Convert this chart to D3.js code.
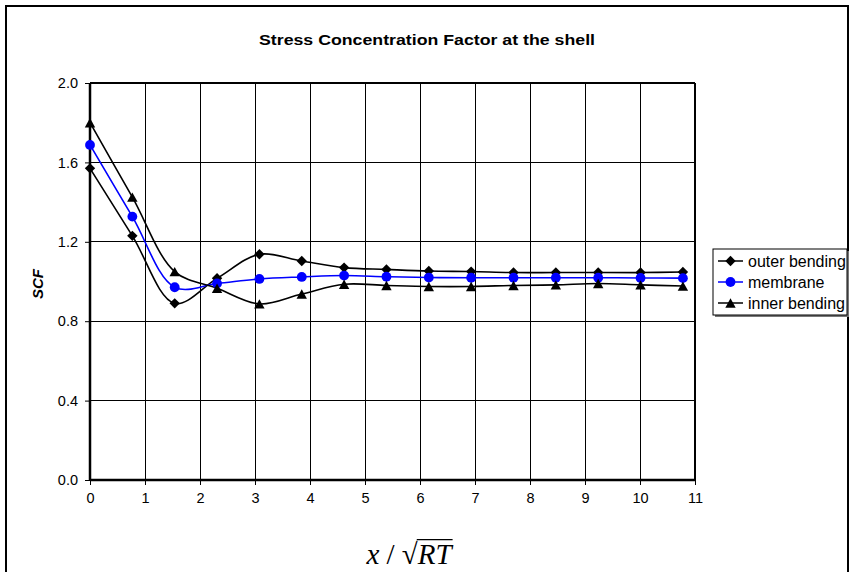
<!DOCTYPE html>
<html>
<head>
<meta charset="utf-8">
<script src="https://cdn.jsdelivr.net/npm/d3@7"></script>
<style>
  html, body { margin: 0; padding: 0; background: #fff; }
  svg { display: block; }
</style>
</head>
<body>
<svg id="chart" width="853" height="572"></svg>
<script>
// ---- data ----
const xValues = [0, 0.77, 1.54, 2.31, 3.08, 3.85, 4.62, 5.39, 6.16, 6.93, 7.70, 8.47, 9.24, 10.01, 10.78];
const outerBending = [1.57, 1.23, 0.89, 1.016, 1.137, 1.103, 1.07, 1.061, 1.053, 1.05, 1.045, 1.045, 1.045, 1.045, 1.048];
const membrane = [1.688, 1.327, 0.971, 0.99, 1.013, 1.023, 1.03, 1.024, 1.02, 1.019, 1.019, 1.019, 1.019, 1.018, 1.017];
const innerBending = [1.80, 1.425, 1.05, 0.966, 0.887, 0.937, 0.986, 0.98, 0.975, 0.975, 0.98, 0.983, 0.99, 0.983, 0.977];
const xTicks = [0, 1, 2, 3, 4, 5, 6, 7, 8, 9, 10, 11];
const yTicks = [0, 0.4, 0.8, 1.2, 1.6, 2.0];
const seriesNames = ["outer bending", "membrane", "inner bending"];
const chartTitle = "Stress Concentration Factor at the shell";
const yLabel = "SCF";

(function () {
const svg = d3.select("#chart");
const pLeft = 90, pRight = 695, pTop = 83, pBottom = 480;
const font = "Arial, 'Liberation Sans', sans-serif";

const x = d3.scaleLinear().domain([0, 11]).range([pLeft, pRight]);
const y = d3.scaleLinear().domain([0, 2]).range([pBottom, pTop]);

// custom marker shapes (size = half width)
const diamond = { draw(ctx, r) { ctx.moveTo(0, -r); ctx.lineTo(r, 0); ctx.lineTo(0, r); ctx.lineTo(-r, 0); ctx.closePath(); } };
const circle = { draw(ctx, r) { ctx.moveTo(r, 0); ctx.arc(0, 0, r, 0, 2 * Math.PI); } };
const triangle = { draw(ctx, r) { const h = r * 1.8; ctx.moveTo(0, -h / 2); ctx.lineTo(r, h / 2); ctx.lineTo(-r, h / 2); ctx.closePath(); } };

// outer frame
svg.append("rect").attr("x", 6).attr("y", 6).attr("width", 842).attr("height", 600)
  .attr("fill", "#fff").attr("stroke", "#000").attr("stroke-width", 2);

// title
svg.append("text").attr("x", 427).attr("y", 45).attr("text-anchor", "middle")
  .attr("font-family", font).attr("font-weight", "bold").attr("font-size", 15)
  .attr("textLength", 336).attr("lengthAdjust", "spacingAndGlyphs")
  .text(chartTitle);

// gridlines
const g = svg.append("g");
g.selectAll("line.hg").data(yTicks.filter(d => d > 0 && d < 2)).join("line")
  .attr("x1", pLeft).attr("x2", pRight).attr("y1", d => y(d)).attr("y2", d => y(d))
  .attr("stroke", "#000").attr("stroke-width", 1).attr("shape-rendering", "crispEdges");
g.selectAll("line.vg").data(xTicks.filter(d => d > 0 && d < 11)).join("line")
  .attr("x1", d => x(d)).attr("x2", d => x(d)).attr("y1", pTop).attr("y2", pBottom)
  .attr("stroke", "#000").attr("stroke-width", 1).attr("shape-rendering", "crispEdges");

// plot border (top, right)
g.append("line").attr("x1", pLeft).attr("x2", pRight).attr("y1", pTop).attr("y2", pTop)
  .attr("stroke", "#000").attr("stroke-width", 2);
g.append("line").attr("x1", pRight).attr("x2", pRight).attr("y1", pTop).attr("y2", pBottom)
  .attr("stroke", "#000").attr("stroke-width", 2);

// axes
const xAxis = d3.axisBottom(x).tickValues(xTicks).tickFormat(d3.format("d")).tickSize(5).tickPadding(8);
const yAxis = d3.axisLeft(y).tickValues(yTicks).tickFormat(d3.format(".1f")).tickSize(5).tickPadding(7);

const gx = svg.append("g").attr("transform", `translate(0,${pBottom})`).call(xAxis);
const gy = svg.append("g").attr("transform", `translate(${pLeft},0)`).call(yAxis);
[gx, gy].forEach(a => {
  a.select(".domain").attr("stroke", "#000").attr("stroke-width", 2.5);
  a.selectAll(".tick line").attr("stroke", "#000").attr("stroke-width", 1);
  a.selectAll(".tick text").attr("font-family", font).attr("font-size", 14.5).attr("fill", "#000");
});
gx.select(".domain").attr("d", `M${pLeft},0H${pRight}`);
gy.select(".domain").attr("d", `M0,${pBottom}V${pTop}`);

// y label
svg.append("text").attr("transform", "translate(43,284) rotate(-90)")
  .attr("text-anchor", "middle").attr("font-family", font).attr("font-weight", "bold")
  .attr("font-style", "italic").attr("font-size", 15).text(yLabel);

// x label: x / sqrt(RT)
const fs = 29;
const xl = svg.append("g").attr("font-family", "'Times New Roman', 'Liberation Serif', serif").attr("font-size", fs);
const t1 = xl.append("text").attr("x", 0).attr("y", 0);
t1.append("tspan").attr("font-style", "italic").text("x");
t1.append("tspan").text(" / √");
const w1 = t1.node().getComputedTextLength();
const t2 = xl.append("text").attr("x", w1).attr("y", 0).attr("font-style", "italic").text("RT");
const w2 = t2.node().getComputedTextLength();
xl.append("line").attr("x1", w1 - 1).attr("x2", w1 + w2 + 1).attr("y1", -0.84 * fs).attr("y2", -0.84 * fs)
  .attr("stroke", "#000").attr("stroke-width", 1.4);
const totalW = w1 + w2;
xl.attr("transform", `translate(${409 - totalW / 2},564)`);

// series
const makeData = vals => xValues.map((xv, i) => [xv, vals[i]]);
const line = d3.line().x(d => x(d[0])).y(d => y(d[1])).curve(d3.curveCatmullRom.alpha(0.5));

const seriesDefs = [
  { name: seriesNames[0], vals: outerBending, color: "#000", symbol: diamond, size: 5.2 },
  { name: seriesNames[1], vals: membrane, color: "#0000ff", symbol: circle, size: 4.9 },
  { name: seriesNames[2], vals: innerBending, color: "#000", symbol: triangle, size: 5.2 }
];

const sg = svg.append("g");
seriesDefs.forEach(s => {
  sg.append("path").datum(makeData(s.vals)).attr("d", line).attr("fill", "none")
    .attr("stroke", s.color).attr("stroke-width", 1.6);
});
seriesDefs.forEach(s => {
  sg.selectAll(null).data(makeData(s.vals)).join("path")
    .attr("transform", d => `translate(${x(d[0])},${y(d[1])})`)
    .attr("d", d3.symbol().type(s.symbol).size(s.size))
    .attr("fill", s.color);
});

// legend
const lg = svg.append("g").attr("transform", "translate(713,249)");
lg.append("rect").attr("x", 2).attr("y", 2).attr("width", 134).attr("height", 66).attr("fill", "#777");
lg.append("rect").attr("x", 0).attr("y", 0).attr("width", 134).attr("height", 66)
  .attr("fill", "#fff").attr("stroke", "#000").attr("stroke-width", 1);
seriesDefs.forEach((s, i) => {
  const yy = 12 + i * 21;
  lg.append("line").attr("x1", 5).attr("x2", 30).attr("y1", yy).attr("y2", yy)
    .attr("stroke", s.color).attr("stroke-width", 1.5);
  lg.append("path").attr("transform", `translate(17.5,${yy})`)
    .attr("d", d3.symbol().type(s.symbol).size(s.size)).attr("fill", s.color);
  lg.append("text").attr("x", 35).attr("y", yy).attr("dy", "0.35em")
    .attr("font-family", font).attr("font-size", 16).text(s.name);
});
})();
</script>
</body>
</html>
